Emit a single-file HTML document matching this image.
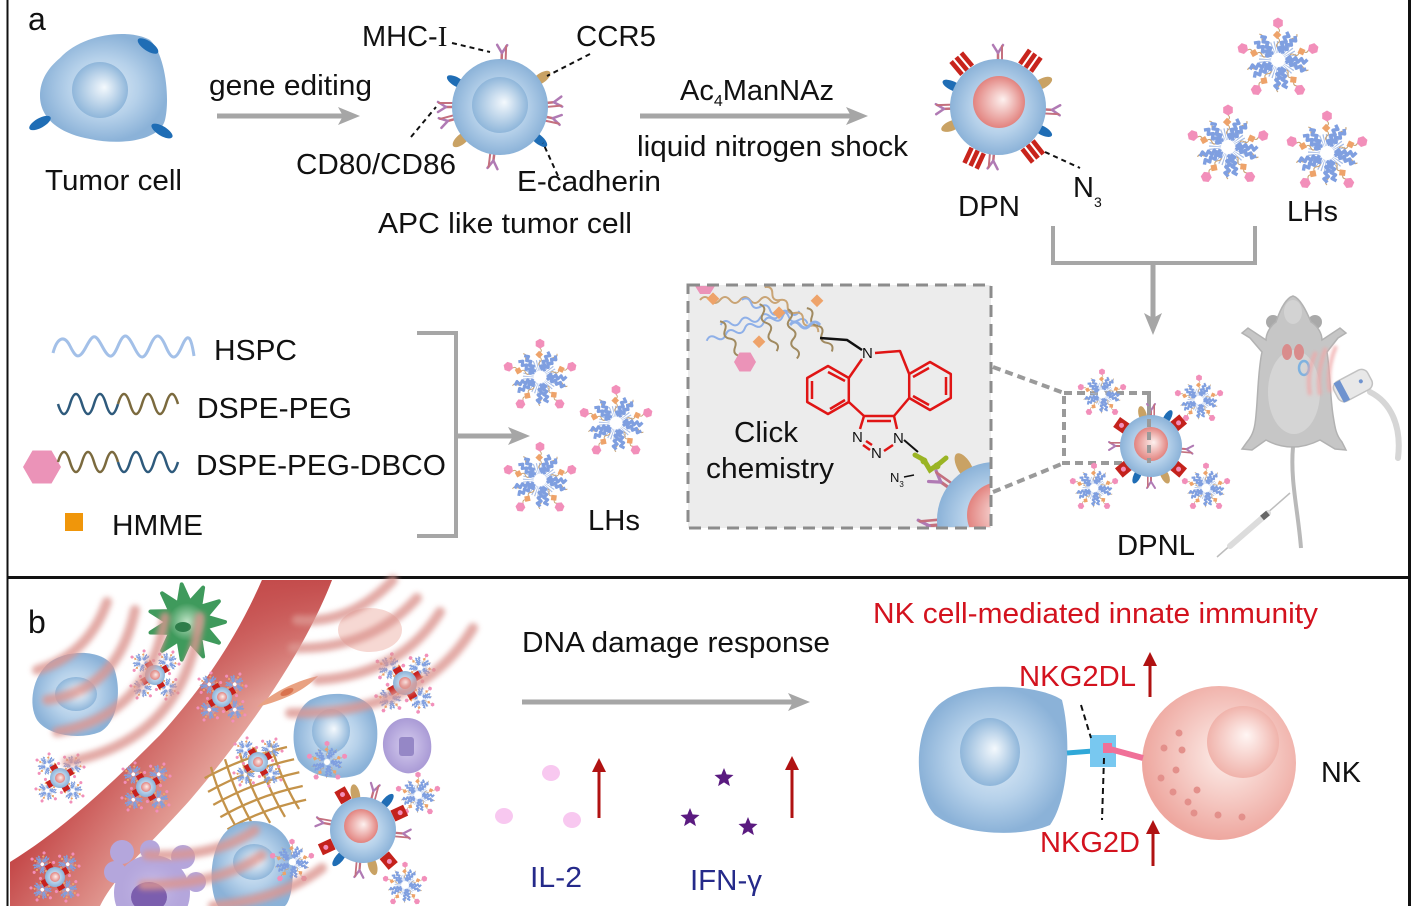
<!DOCTYPE html>
<html><head><meta charset="utf-8">
<style>
html,body{margin:0;padding:0;background:#fff;}
svg{display:block;}
text{font-family:"Liberation Sans",Arial,sans-serif;fill:#111;}
</style></head><body>
<svg width="1417" height="906" viewBox="0 0 1417 906" xmlns="http://www.w3.org/2000/svg">
<defs>
 <radialGradient id="gCell" cx="50%" cy="50%" r="50%">
  <stop offset="0" stop-color="#dfecf7"/><stop offset="0.55" stop-color="#b6d1ea"/><stop offset="1" stop-color="#8bb2d8"/>
 </radialGradient>
 <radialGradient id="gNuc" cx="50%" cy="50%" r="50%" fx="58%" fy="45%">
  <stop offset="0" stop-color="#f4f9fd"/><stop offset="1" stop-color="#8fb6da"/>
 </radialGradient>
 <radialGradient id="gNucPink" cx="50%" cy="50%" r="50%" fx="58%" fy="45%">
  <stop offset="0" stop-color="#fdf1ef"/><stop offset="1" stop-color="#e2837f"/>
 </radialGradient>
 <radialGradient id="gNK" cx="55%" cy="45%" r="55%">
  <stop offset="0" stop-color="#fdf0ec"/><stop offset="1" stop-color="#eea79f"/>
 </radialGradient>
 <radialGradient id="gNKn" cx="50%" cy="50%" r="50%" fx="55%" fy="40%">
  <stop offset="0" stop-color="#fff6f4"/><stop offset="1" stop-color="#f0b3ab"/>
 </radialGradient>
 <radialGradient id="gGreen" cx="50%" cy="50%" r="50%">
  <stop offset="0" stop-color="#bfe3c5"/><stop offset="1" stop-color="#3f9a5c"/>
 </radialGradient>
 <radialGradient id="gPurp" cx="50%" cy="50%" r="50%">
  <stop offset="0" stop-color="#d6cdef"/><stop offset="1" stop-color="#aa9bd6"/>
 </radialGradient>
 <radialGradient id="gPurp2" cx="50%" cy="50%" r="50%">
  <stop offset="0" stop-color="#d2c8ee" stop-opacity="1"/><stop offset="1" stop-color="#b4a6dc" stop-opacity="0"/>
 </radialGradient>
 <linearGradient id="gVes" gradientUnits="userSpaceOnUse" x1="140" y1="690" x2="250" y2="770">
  <stop offset="0" stop-color="#c54a4a"/><stop offset="1" stop-color="#ecb7ad"/>
 </linearGradient>
 <linearGradient id="gVesTop" gradientUnits="userSpaceOnUse" x1="0" y1="580" x2="0" y2="700">
  <stop offset="0" stop-color="#c44c4c" stop-opacity="1"/><stop offset="1" stop-color="#c44c4c" stop-opacity="0"/>
 </linearGradient>
 <filter id="blur" x="-20%" y="-20%" width="140%" height="140%"><feGaussianBlur stdDeviation="2.6"/></filter>
 <filter id="blur2" x="-20%" y="-20%" width="140%" height="140%"><feGaussianBlur stdDeviation="1.5"/></filter>
 <clipPath id="boxClip"><rect x="689" y="286" width="301" height="241"/></clipPath>

 <polygon id="hex" points="5.5,0 2.75,4.8 -2.75,4.8 -5.5,0 -2.75,-4.8 2.75,-4.8"/>
 <path id="barm" d="M8,-1 l3,-4 3,4 3,-4 3,4 3,-4 3,4 3,-4" fill="none" stroke="#7f9fe0" stroke-width="3.4" stroke-linejoin="round"/>
 <path id="tanw" d="M12,0 q2.5,-3 5,0 t5,0 t5,0 t5,0" fill="none" stroke="#c9a475" stroke-width="1.1"/>

 <g id="lh">
  <circle r="13" fill="none" stroke="#a7bde6" stroke-width="12" stroke-dasharray="0.9 1.5"/>
  <use href="#tanw" transform="rotate(18)"/><use href="#tanw" transform="rotate(54)"/>
  <use href="#tanw" transform="rotate(90)"/><use href="#tanw" transform="rotate(126)"/>
  <use href="#tanw" transform="rotate(162)"/><use href="#tanw" transform="rotate(198)"/>
  <use href="#tanw" transform="rotate(234)"/><use href="#tanw" transform="rotate(270)"/>
  <use href="#tanw" transform="rotate(306)"/><use href="#tanw" transform="rotate(342)"/>
  <use href="#barm" transform="rotate(-63)"/><use href="#barm" transform="rotate(-45)"/>
  <use href="#barm" transform="rotate(9)"/><use href="#barm" transform="rotate(27)"/>
  <use href="#barm" transform="rotate(81)"/><use href="#barm" transform="rotate(99)"/>
  <use href="#barm" transform="rotate(153)"/><use href="#barm" transform="rotate(171)"/>
  <use href="#barm" transform="rotate(225)"/><use href="#barm" transform="rotate(243)"/>
  <g fill="#eea36a">
   <rect x="-3" y="-3" width="6" height="6" transform="rotate(-20) translate(25 0) rotate(45)"/>
   <rect x="-3" y="-3" width="6" height="6" transform="rotate(52) translate(25 0) rotate(45)"/>
   <rect x="-3" y="-3" width="6" height="6" transform="rotate(124) translate(25 0) rotate(45)"/>
   <rect x="-3" y="-3" width="6" height="6" transform="rotate(196) translate(25 0) rotate(45)"/>
   <rect x="-3" y="-3" width="6" height="6" transform="rotate(268) translate(25 0) rotate(45)"/>
  </g>
  <g fill="#f28fba">
   <use href="#hex" transform="rotate(-90) translate(37 0)"/>
   <use href="#hex" transform="rotate(-18) translate(37 0)"/>
   <use href="#hex" transform="rotate(54) translate(37 0)"/>
   <use href="#hex" transform="rotate(126) translate(37 0)"/>
   <use href="#hex" transform="rotate(198) translate(37 0)"/>
  </g>
  <circle r="6" fill="#fff"/>
 </g>

 <g id="yab" fill="none" stroke-width="2.5" stroke-linecap="round">
  <path d="M0,4 V-7" stroke="#c4707e"/>
  <path d="M0,-7 L-5,-15 M0,-7 L5,-15" stroke="#b07ab4"/>
  <path d="M4,2 V-14" stroke="#c4707e" stroke-width="2"/>
 </g>
 <ellipse id="bel" cx="0" cy="-3" rx="4.5" ry="11" fill="#1f6db5"/>
 <ellipse id="tel" cx="0" cy="-3" rx="5" ry="11" fill="#c9a264"/>
 <g id="rst" fill="#c8241c">
  <rect x="-9" y="-19" width="4.6" height="17"/>
  <rect x="-2.3" y="-19" width="4.6" height="17"/>
  <rect x="4.4" y="-19" width="4.6" height="17"/>
 </g>
 <g id="rsq"><rect x="-6" y="-14" width="12" height="14" fill="#c4221c"/><circle cx="0" cy="-8" r="2.5" fill="#f28fba"/></g>

 <g id="mini">
  <use href="#lh" transform="rotate(45) translate(18 0) scale(0.31)"/>
  <use href="#lh" transform="rotate(135) translate(18 0) scale(0.31)"/>
  <use href="#lh" transform="rotate(225) translate(18 0) scale(0.31)"/>
  <use href="#lh" transform="rotate(315) translate(18 0) scale(0.31)"/>
  <g fill="#c8201c">
   <rect x="-3.5" y="-3.5" width="7" height="7" transform="rotate(60) translate(11 0)"/>
   <rect x="-3.5" y="-3.5" width="7" height="7" transform="rotate(150) translate(11 0)"/>
   <rect x="-3.5" y="-3.5" width="7" height="7" transform="rotate(240) translate(11 0)"/>
   <rect x="-3.5" y="-3.5" width="7" height="7" transform="rotate(330) translate(11 0)"/>
  </g>
  <circle r="10" fill="url(#gCell)"/><circle r="5" fill="url(#gNucPink)"/>
 </g>
</defs>

<!-- frame -->
<line x1="7.5" y1="0" x2="7.5" y2="906" stroke="#111" stroke-width="2"/>
<line x1="1409.5" y1="0" x2="1409.5" y2="906" stroke="#111" stroke-width="3"/>
<line x1="7" y1="577.5" x2="1411" y2="577.5" stroke="#111" stroke-width="3"/>

<!-- ============ PANEL A ============ -->
<text x="28" y="30" font-size="32">a</text>

<!-- tumor cell -->
<path d="M60,58 C82,34 128,28 150,40 C166,55 170,100 165,120 C160,140 122,146 90,139 C56,133 40,116 40,96 C40,80 48,68 60,58 Z" fill="url(#gCell)"/>
<circle cx="100" cy="90" r="28" fill="url(#gNuc)"/>
<ellipse cx="148" cy="46" rx="12" ry="4.8" fill="#1f6db5" transform="rotate(34 148 46)"/>
<ellipse cx="40" cy="123" rx="12" ry="4.8" fill="#1f6db5" transform="rotate(-29 40 123)"/>
<ellipse cx="162" cy="131" rx="12" ry="4.8" fill="#1f6db5" transform="rotate(31 162 131)"/>
<text x="45" y="190" font-size="29" textLength="137" lengthAdjust="spacingAndGlyphs">Tumor cell</text>

<!-- arrow gene editing -->
<text x="209" y="95" font-size="29" textLength="163" lengthAdjust="spacingAndGlyphs">gene editing</text>
<line x1="217" y1="116" x2="346" y2="116" stroke="#a6a6a6" stroke-width="5"/>
<polygon points="338,107 360,116 338,125 343,116" fill="#a6a6a6"/>

<!-- APC like tumor cell -->
<g>
 <use href="#yab" transform="translate(500 107) rotate(2) translate(0 -47)"/>
 <use href="#yab" transform="translate(500 107) rotate(85) translate(0 -47)"/>
 <use href="#yab" transform="translate(500 107) rotate(102) translate(0 -47)"/>
 <use href="#yab" transform="translate(500 107) rotate(270) translate(0 -47)"/>
 <use href="#yab" transform="translate(500 107) rotate(255) translate(0 -47)"/>
 <use href="#yab" transform="translate(500 107) rotate(187) translate(0 -47)"/>
 <use href="#bel" transform="translate(500 107) rotate(-60) translate(0 -47)"/>
 <use href="#bel" transform="translate(500 107) rotate(130) translate(0 -47)"/>
 <use href="#tel" transform="translate(500 107) rotate(55) translate(0 -47)"/>
 <use href="#tel" transform="translate(500 107) rotate(230) translate(0 -47)"/>
 <circle cx="500" cy="107" r="48" fill="url(#gCell)"/>
 <circle cx="500" cy="105" r="28" fill="url(#gNuc)"/>
</g>
<g stroke="#111" stroke-width="2" stroke-dasharray="5 4" fill="none">
 <path d="M452,43 L490,52"/>
 <path d="M590,54 L547,76"/>
 <path d="M411,137 L436,107"/>
 <path d="M558,176 L543,143"/>
</g>
<text x="362" y="46" font-size="29">MHC-<tspan font-family="Liberation Serif, serif">I</tspan></text>
<text x="576" y="46" font-size="29" textLength="80" lengthAdjust="spacingAndGlyphs">CCR5</text>
<text x="296" y="174" font-size="29" textLength="160" lengthAdjust="spacingAndGlyphs">CD80/CD86</text>
<text x="517" y="191" font-size="29" textLength="144" lengthAdjust="spacingAndGlyphs">E-cadherin</text>
<text x="378" y="233" font-size="29" textLength="254" lengthAdjust="spacingAndGlyphs">APC like tumor cell</text>

<!-- arrow Ac4ManNAz -->
<text x="680" y="100" font-size="29">Ac<tspan font-size="16" dy="6">4</tspan><tspan dy="-6">ManNAz</tspan></text>
<line x1="640" y1="116" x2="852" y2="116" stroke="#a6a6a6" stroke-width="5"/>
<polygon points="846,107 868,116 846,125 851,116" fill="#a6a6a6"/>
<text x="637" y="156" font-size="29" textLength="271" lengthAdjust="spacingAndGlyphs">liquid nitrogen shock</text>

<!-- DPN -->
<g>
 <use href="#rst" transform="translate(998 107) rotate(-40) translate(0 -46)"/>
 <use href="#rst" transform="translate(998 107) rotate(35) translate(0 -46)"/>
 <use href="#rst" transform="translate(998 107) rotate(205) translate(0 -46)"/>
 <use href="#rst" transform="translate(998 107) rotate(142) translate(0 -46)"/>
 <use href="#yab" transform="translate(998 107) rotate(0) translate(0 -47)"/>
 <use href="#yab" transform="translate(998 107) rotate(93) translate(0 -47)"/>
 <use href="#yab" transform="translate(998 107) rotate(268) translate(0 -47)"/>
 <use href="#yab" transform="translate(998 107) rotate(185) translate(0 -47)"/>
 <use href="#bel" transform="translate(998 107) rotate(-65) translate(0 -47)"/>
 <use href="#bel" transform="translate(998 107) rotate(118) translate(0 -47)"/>
 <use href="#tel" transform="translate(998 107) rotate(62) translate(0 -47)"/>
 <use href="#tel" transform="translate(998 107) rotate(248) translate(0 -47)"/>
 <circle cx="998" cy="107" r="48" fill="url(#gCell)"/>
 <circle cx="999" cy="102" r="26" fill="url(#gNucPink)"/>
</g>
<path d="M1045,152 L1080,168" stroke="#111" stroke-width="2" stroke-dasharray="5 4"/>
<text x="958" y="216" font-size="29" textLength="62" lengthAdjust="spacingAndGlyphs">DPN</text>
<text x="1073" y="197" font-size="29">N<tspan font-size="14" dy="10">3</tspan></text>

<!-- LHs top -->
<use href="#lh" transform="translate(1278 60)"/>
<use href="#lh" transform="translate(1228 147)"/>
<use href="#lh" transform="translate(1327 153)"/>
<text x="1287" y="221" font-size="29" textLength="51" lengthAdjust="spacingAndGlyphs">LHs</text>

<!-- combine bracket -->
<path d="M1053,226 V263 H1255 V226" fill="none" stroke="#a6a6a6" stroke-width="4"/>
<line x1="1153" y1="263" x2="1153" y2="322" stroke="#a6a6a6" stroke-width="5"/>
<polygon points="1144,313 1153,335 1162,313 1153,318" fill="#a6a6a6"/>

<!-- legend -->
<path d="M53,353 C57,338 64,334 70,346 S79,360 86,347 S95,333 102,346 S112,360 118,346 S127,333 134,347 S144,360 150,346 S160,333 166,347 S176,360 182,346 S191,336 194,356" fill="none" stroke="#a3c0e8" stroke-width="3"/>
<text x="214" y="360" font-size="29" textLength="83" lengthAdjust="spacingAndGlyphs">HSPC</text>
<path d="M58,404 q6,20 12,0 t12,0 t12,0 t12,0 t12,0" fill="none" stroke="#2e5a7c" stroke-width="2.5"/>
<path d="M118,404 q6,-20 12,0 t12,0 t12,0 t12,0 t12,0" fill="none" stroke="#7b6a3e" stroke-width="2.5"/>
<text x="197" y="418" font-size="29" textLength="155" lengthAdjust="spacingAndGlyphs">DSPE-PEG</text>
<polygon points="61,467 51.5,483.5 32.5,483.5 23,467 32.5,450.5 51.5,450.5" fill="#eb93b8"/>
<path d="M58,462 q6,-20 12,0 t12,0 t12,0 t12,0 t12,0" fill="none" stroke="#7b6a3e" stroke-width="2.5"/>
<path d="M118,462 q6,20 12,0 t12,0 t12,0 t12,0 t12,0" fill="none" stroke="#2e5a7c" stroke-width="2.5"/>
<text x="196" y="475" font-size="29" textLength="250" lengthAdjust="spacingAndGlyphs">DSPE-PEG-DBCO</text>
<rect x="65" y="513" width="18" height="18" fill="#f0960a"/>
<text x="112" y="535" font-size="29" textLength="91" lengthAdjust="spacingAndGlyphs">HMME</text>

<path d="M417,333 H456 V536 H417" fill="none" stroke="#a6a6a6" stroke-width="4"/>
<line x1="456" y1="436" x2="515" y2="436" stroke="#a6a6a6" stroke-width="5"/>
<polygon points="508,427 530,436 508,445 513,436" fill="#a6a6a6"/>

<use href="#lh" transform="translate(540 377) scale(0.9)"/>
<use href="#lh" transform="translate(616 423) scale(0.9)"/>
<use href="#lh" transform="translate(540 480) scale(0.9)"/>
<text x="588" y="530" font-size="29" textLength="52" lengthAdjust="spacingAndGlyphs">LHs</text>

<!-- click chemistry box -->
<rect x="688" y="285" width="303" height="243" fill="#ececec"/>
<g clip-path="url(#boxClip)">
 <g fill="none" stroke-width="2">
  <path d="M700,300 q5,-6 10,0 t10,0 t10,0 t10,0 t10,0 t10,0 t10,0 t10,0" stroke="#c9a475"/>
  <path d="M705,330 q5,-6 10,0 t10,0 t10,0 t10,0 t10,0 t10,0 t10,0 t10,0 t10,0" stroke="#8fb0e8" transform="rotate(-18 740 330)"/>
  <path d="M720,318 q5,-6 10,0 t10,0 t10,0 t10,0 t10,0 t10,0 t10,0 t10,0" stroke="#8fb0e8" transform="rotate(-10 760 318)"/>
  <path d="M740,310 q5,-6 10,0 t10,0 t10,0 t10,0 t10,0 t10,0 t10,0" stroke="#8fb0e8" transform="rotate(20 770 310)"/>
  <path d="M760,300 q5,-6 10,0 t10,0 t10,0 t10,0 t10,0 t10,0 t10,0" stroke="#c9a475" transform="rotate(40 780 300)"/>
  <path d="M745,315 q5,-6 10,0 t10,0 t10,0 t10,0 t10,0" stroke="#a08a60" transform="rotate(70 760 320)"/>
  <path d="M775,315 q5,-6 10,0 t10,0 t10,0 t10,0 t10,0" stroke="#a08a60" transform="rotate(80 785 320)"/>
  <path d="M800,310 q5,-6 10,0 t10,0 t10,0 t10,0 t10,0" stroke="#a08a60" transform="rotate(60 805 315)"/>
  <path d="M715,330 q5,-6 10,0 t10,0 t10,0 t10,0" stroke="#a08a60" transform="rotate(60 725 330)"/>
  <path d="M790,325 q5,-6 10,0 t10,0 t10,0" stroke="#8fb0e8" stroke-width="3"/>
 </g>
 <g fill="#eea36a">
  <rect x="709" y="294" width="9" height="9" transform="rotate(45 713 298)"/>
  <rect x="775" y="308" width="9" height="9" transform="rotate(45 779 312)"/>
  <rect x="813" y="296" width="9" height="9" transform="rotate(45 817 300)"/>
  <rect x="755" y="337" width="9" height="9" transform="rotate(45 759 341)"/>
 </g>
 <polygon points="756,362 750.5,371.5 739.5,371.5 734,362 739.5,352.5 750.5,352.5" fill="#eb93b8"/>
 <polygon points="715,286 710,294 700,294 695,286 700,278 710,278" fill="#eb93b8"/>
 <!-- partial cell -->
 <use href="#yab" transform="translate(995 520) rotate(-55) translate(0 -57) scale(1.3)"/>
 <use href="#yab" transform="translate(995 520) rotate(-95) translate(0 -57) scale(1.3)"/>
 <use href="#tel" transform="translate(995 520) rotate(-30) translate(0 -57) scale(1.4)"/>
 <circle cx="995" cy="520" r="58" fill="url(#gCell)"/>
 <circle cx="1000" cy="515" r="33" fill="url(#gNucPink)"/>
</g>
<rect x="688" y="285" width="303" height="243" fill="none" stroke="#8c8c8c" stroke-width="3" stroke-dasharray="12 7"/>

<!-- DBCO structure -->
<g fill="none" stroke="#e01515" stroke-width="2.5" stroke-linejoin="round">
 <polygon points="828,366 848.8,378 848.8,402 828,414 807.2,402 807.2,378"/>
 <path d="M812,381 L812,399 M828,372 L845,381 M830,409 L845,400"/>
 <polygon points="930,362 950.8,374 950.8,398 930,410 909.2,398 909.2,374"/>
 <path d="M946,377 L946,395 M913,377 L929,368 M913,396 L929,405"/>
 <path d="M862,359 L848.8,378"/>
 <path d="M875,353 L900,351 L909.2,374"/>
 <path d="M848.8,402 L864,416"/>
 <path d="M909.2,398 L894,416"/>
 <path d="M864,416 L894,416 M867,421 L891,421"/>
 <path d="M864,416 L860,429"/>
 <path d="M894,416 L897,429"/>
 <path d="M863,445 L870,450 M866,441 L872,445"/>
 <path d="M884,451 L893,445"/>
</g>
<g font-size="15" fill="#e01515">
 <text x="862" y="358" fill="#e01515">N</text>
 <text x="852" y="442" fill="#e01515">N</text>
 <text x="871" y="458" fill="#e01515">N</text>
 <text x="893" y="443" fill="#e01515">N</text>
</g>
<path d="M820,338 L847,340 L862,350" fill="none" stroke="#111" stroke-width="2.5"/>
<line x1="904" y1="440" x2="918" y2="452" stroke="#111" stroke-width="2"/>
<path d="M915,455 L924,460 L930,470 L940,463 L946,458" fill="none" stroke="#9ab424" stroke-width="5" stroke-linecap="round"/>
<circle cx="924" cy="461" r="3.5" fill="#9ab424"/><circle cx="937" cy="466" r="3.5" fill="#9ab424"/>
<text x="890" y="482" font-size="13">N<tspan font-size="8" dy="5">3</tspan></text>
<line x1="904" y1="477" x2="914" y2="475" stroke="#111" stroke-width="1.5"/>
<text x="734" y="442" font-size="29" textLength="64" lengthAdjust="spacingAndGlyphs">Click</text>
<text x="706" y="478" font-size="29" textLength="128" lengthAdjust="spacingAndGlyphs">chemistry</text>

<!-- dotted connectors -->
<g stroke="#9a9a9a" stroke-width="4" stroke-dasharray="8 5" fill="none">
 <path d="M993,367 L1064,393"/>
 <path d="M993,492 L1064,463"/>
 <rect x="1064" y="393" width="85" height="70"/>
</g>

<!-- DPNL -->
<g>
 <use href="#lh" transform="translate(1102 394) scale(0.6)"/>
 <use href="#lh" transform="translate(1199 400) scale(0.6)"/>
 <use href="#lh" transform="translate(1094 488) scale(0.6)"/>
 <use href="#lh" transform="translate(1206 488) scale(0.6)"/>
 <use href="#rsq" transform="translate(1151 446) rotate(-55) translate(0 -28)"/>
 <use href="#rsq" transform="translate(1151 446) rotate(50) translate(0 -28)"/>
 <use href="#rsq" transform="translate(1151 446) rotate(230) translate(0 -28)"/>
 <use href="#rsq" transform="translate(1151 446) rotate(130) translate(0 -28)"/>
 <use href="#yab" transform="translate(1151 446) rotate(0) translate(0 -30) scale(0.8)"/>
 <use href="#yab" transform="translate(1151 446) rotate(270) translate(0 -30) scale(0.8)"/>
 <use href="#yab" transform="translate(1151 446) rotate(180) translate(0 -30) scale(0.8)"/>
 <use href="#yab" transform="translate(1151 446) rotate(95) translate(0 -30) scale(0.8)"/>
 <use href="#bel" transform="translate(1151 446) rotate(30) translate(0 -30) scale(0.8)"/>
 <use href="#bel" transform="translate(1151 446) rotate(205) translate(0 -30) scale(0.8)"/>
 <use href="#tel" transform="translate(1151 446) rotate(-15) translate(0 -30) scale(0.8)"/>
 <use href="#tel" transform="translate(1151 446) rotate(155) translate(0 -30) scale(0.8)"/>
 <circle cx="1151" cy="446" r="31" fill="url(#gCell)"/>
 <circle cx="1151" cy="444" r="17" fill="url(#gNucPink)"/>
</g>
<path d="M1149,393 V463" stroke="#9a9a9a" stroke-width="4" stroke-dasharray="8 5"/>
<text x="1117" y="555" font-size="29" textLength="78" lengthAdjust="spacingAndGlyphs">DPNL</text>

<!-- mouse -->
<g>
 <circle cx="1273" cy="322" r="7" fill="#a9a9a9"/>
 <circle cx="1315" cy="322" r="7" fill="#a9a9a9"/>
 <path d="M1293,447 C1290,480 1298,510 1301,548" fill="none" stroke="#b9b9b9" stroke-width="4"/>
 <path d="M1293,296 C1300,298 1306,310 1311,322 C1318,326 1322,334 1322,340 L1340,328 L1346,333 L1338,338 L1327,352 C1330,370 1330,395 1333,415 C1335,428 1336,435 1342,442 L1346,450 L1335,449 L1320,440 C1310,445 1300,447 1293,447 C1285,447 1275,445 1266,440 L1252,450 L1242,449 L1247,442 C1253,435 1255,428 1256,415 C1258,395 1258,370 1262,352 L1250,338 L1242,333 L1248,328 L1266,340 C1266,334 1270,326 1276,322 C1280,310 1286,298 1293,296 Z" fill="#c6c6c6" stroke="#b2b2b2" stroke-width="1.5"/>
 <ellipse cx="1294" cy="392" rx="26" ry="42" fill="#d5d5d5"/>
 <ellipse cx="1293" cy="312" rx="9" ry="12" fill="#d3d3d3"/>
 <ellipse cx="1287" cy="352" rx="5" ry="8" fill="#d98c8c"/>
 <ellipse cx="1299" cy="352" rx="5" ry="8" fill="#d98c8c"/>
 <ellipse cx="1304" cy="368" rx="5" ry="7" fill="none" stroke="#7fb2e0" stroke-width="2.5"/>
 <g filter="url(#blur2)" fill="none" stroke="#f0a8a8" stroke-width="4" opacity="0.8">
  <path d="M1316,352 Q1306,372 1310,395"/>
  <path d="M1326,348 Q1316,372 1320,395"/>
  <path d="M1336,346 Q1326,370 1330,392"/>
 </g>
 <path d="M1370,392 C1390,402 1402,425 1398,458" fill="none" stroke="#d6d6d6" stroke-width="6" stroke-linecap="round"/>
 <g transform="rotate(-28 1352 386)">
  <rect x="1334" y="375" width="38" height="22" rx="7" fill="#e8e8e8" stroke="#c2c2c2" stroke-width="1.5"/>
  <rect x="1337" y="375" width="7" height="22" fill="#6f93cf"/>
  <circle cx="1362" cy="386" r="2" fill="#6f93cf"/>
 </g>
 <line x1="1217" y1="557" x2="1290" y2="493" stroke="#bdbdbd" stroke-width="1.5"/>
 <line x1="1230" y1="546" x2="1268" y2="513" stroke="#dcdcdc" stroke-width="6" stroke-linecap="round"/>
 <line x1="1262" y1="518" x2="1268" y2="513" stroke="#666" stroke-width="6"/>
</g>

<!-- ============ PANEL B ============ -->
<!-- vessel -->
<path d="M262,580 L332,580 C305,650 250,730 190,800 C150,845 115,875 100,906 L10,906 L10,862 C70,825 120,775 160,735 C210,680 240,630 262,580 Z" fill="url(#gVes)"/>
<path d="M262,580 L332,580 C305,650 250,730 190,800 C150,845 115,875 100,906 L10,906 L10,862 C70,825 120,775 160,735 C210,680 240,630 262,580 Z" fill="url(#gVesTop)"/>

<text x="28" y="633" font-size="32">b</text>

<!-- cells -->
<path d="M50,662 C70,648 105,650 114,668 C122,690 118,722 100,732 C80,740 48,736 37,720 C28,705 32,676 50,662 Z" fill="url(#gCell)"/>
<ellipse cx="76" cy="694" rx="21" ry="17" fill="url(#gNuc)"/>

<polygon points="225,622 206.2,627.5 218.9,642.7 200.1,637.1 203.1,656.4 189.8,641.8 181.7,659.6 178.5,640.1 162.1,650.7 170.2,632.9 150.5,632.5 167,622 150.5,611.5 170.2,611.1 162.1,593.3 178.5,603.9 181.7,584.4 189.8,602.2 203.1,587.6 200.1,606.9 218.9,601.3 206.2,616.5" fill="#3f9a5c" stroke="#3f9a5c" stroke-width="4" stroke-linejoin="round"/>
<circle cx="187" cy="622" r="19" fill="url(#gGreen)"/>
<ellipse cx="183" cy="627" rx="8" ry="5" fill="#2e7d4a"/>

<ellipse cx="370" cy="630" rx="32" ry="22" fill="#f2c8c0" opacity="0.7"/>
<path d="M257,707 C275,690 300,680 318,676 C305,690 285,700 257,707 Z" fill="#e9a282"/>
<ellipse cx="287" cy="692" rx="7" ry="3" fill="#d9734f" transform="rotate(-25 287 692)"/>

<path d="M310,700 C330,690 360,692 372,708 C382,730 378,762 360,774 C340,782 310,778 298,760 C290,742 292,712 310,700 Z" fill="url(#gCell)"/>
<ellipse cx="331" cy="731" rx="19" ry="22" fill="url(#gNuc)"/>

<path d="M407,718 C425,718 433,735 431,752 C428,768 415,775 405,773 C392,770 382,758 383,742 C384,728 394,718 407,718 Z" fill="url(#gPurp)"/>
<rect x="399" y="737" width="15" height="19" rx="3" fill="#9587c6"/>

<g fill="none" stroke="#c4934a" stroke-width="2.3" transform="rotate(-22 255 788)">
 <path d="M212,760 Q255,755 300,762"/><path d="M210,774 Q255,768 302,776"/>
 <path d="M210,788 Q255,782 302,790"/><path d="M212,802 Q255,796 300,804"/>
 <path d="M214,816 Q255,810 298,818"/>
 <path d="M222,752 Q218,790 224,824"/><path d="M238,750 Q234,790 240,826"/>
 <path d="M254,750 Q250,790 256,826"/><path d="M270,750 Q266,790 272,826"/>
 <path d="M286,752 Q282,790 288,824"/>
</g>

<path d="M230,828 C250,815 280,820 290,845 C296,870 292,900 285,906 L218,906 C208,890 208,845 230,828 Z" fill="url(#gCell)"/>
<ellipse cx="254" cy="862" rx="21" ry="18" fill="url(#gNuc)"/>

<g fill="#b4a6dc">
 <circle cx="152" cy="893" r="38"/>
 <circle cx="115" cy="872" r="11"/><circle cx="122" cy="852" r="12"/>
 <circle cx="150" cy="850" r="10"/><circle cx="183" cy="857" r="12"/><circle cx="196" cy="882" r="10"/>
</g>
<circle cx="152" cy="890" r="34" fill="url(#gPurp2)"/>
<ellipse cx="149" cy="897" rx="18" ry="15" fill="#7b5eae"/>

<!-- big DPNL b -->
<use href="#lh" transform="translate(418 795) scale(0.55)"/>
<use href="#lh" transform="translate(405 885) scale(0.55)"/>
<use href="#lh" transform="translate(292 862) scale(0.55)"/>
<use href="#lh" transform="translate(327 762) scale(0.5)"/>
<g>
 <use href="#rsq" transform="translate(363 830) rotate(-30) translate(0 -33)"/>
 <use href="#rsq" transform="translate(363 830) rotate(65) translate(0 -33)"/>
 <use href="#rsq" transform="translate(363 830) rotate(245) translate(0 -33)"/>
 <use href="#rsq" transform="translate(363 830) rotate(140) translate(0 -33)"/>
 <use href="#yab" transform="translate(363 830) rotate(15) translate(0 -34) scale(0.9)"/>
 <use href="#yab" transform="translate(363 830) rotate(280) translate(0 -34) scale(0.9)"/>
 <use href="#yab" transform="translate(363 830) rotate(95) translate(0 -34) scale(0.9)"/>
 <use href="#yab" transform="translate(363 830) rotate(185) translate(0 -34) scale(0.9)"/>
 <use href="#bel" transform="translate(363 830) rotate(40) translate(0 -34) scale(0.9)"/>
 <use href="#bel" transform="translate(363 830) rotate(220) translate(0 -34) scale(0.9)"/>
 <use href="#tel" transform="translate(363 830) rotate(-12) translate(0 -34) scale(0.9)"/>
 <use href="#tel" transform="translate(363 830) rotate(165) translate(0 -34) scale(0.9)"/>
 <circle cx="363" cy="830" r="33" fill="url(#gCell)"/>
 <circle cx="361" cy="826" r="17" fill="url(#gNucPink)"/>
</g>

<use href="#mini" transform="translate(155 675)"/>
<use href="#mini" transform="translate(222 697)"/>
<use href="#mini" transform="translate(60 778)"/>
<use href="#mini" transform="translate(146 787)"/>
<use href="#mini" transform="translate(55 877)"/>
<use href="#mini" transform="translate(258 762)"/>
<use href="#mini" transform="translate(405 683) scale(1.2)"/>

<!-- blurred waves -->
<g filter="url(#blur)" fill="none" stroke="#dc9590" stroke-width="10" stroke-linecap="round" opacity="0.8">
 <path d="M37,670 Q88,655 107,602"/>
 <path d="M47,700 Q118,690 135,610"/>
 <path d="M57,732 Q150,715 165,617"/>
 <path d="M67,762 Q185,740 200,617"/>
 <path d="M297,620 Q350,625 393,580"/>
 <path d="M293,648 Q370,650 417,598"/>
 <path d="M317,680 Q400,675 440,612"/>
 <path d="M290,713 Q420,715 473,628"/>
 <path d="M147,855 Q215,858 255,830"/>
 <path d="M143,885 Q220,885 262,855"/>
 <path d="M213,906 Q280,900 322,868"/>
</g>

<!-- middle b -->
<text x="522" y="652" font-size="29" textLength="308" lengthAdjust="spacingAndGlyphs">DNA damage response</text>
<line x1="522" y1="702" x2="795" y2="702" stroke="#a6a6a6" stroke-width="5"/>
<polygon points="788,693 810,702 788,711 793,702" fill="#a6a6a6"/>

<g fill="#f8c8f0">
 <ellipse cx="551" cy="773" rx="9" ry="8"/>
 <ellipse cx="504" cy="816" rx="9" ry="8"/>
 <ellipse cx="572" cy="820" rx="9" ry="8"/>
</g>
<g fill="#5a1a80">
 <polygon points="724,768 726.6,774.4 733.5,775 728.2,779.4 729.9,786.1 724,782.4 718.1,786.1 719.8,779.4 714.5,775 721.4,774.4"/>
 <polygon points="690,808 692.6,814.4 699.5,815 694.2,819.4 695.9,826.1 690,822.4 684.1,826.1 685.8,819.4 680.5,815 687.4,814.4"/>
 <polygon points="748,817 750.6,823.4 757.5,824 752.2,828.4 753.9,835.1 748,831.4 742.1,835.1 743.8,828.4 738.5,824 745.4,823.4"/>
</g>
<g stroke="#b01212" stroke-width="3" fill="#b01212">
 <line x1="599" y1="818" x2="599" y2="768"/>
 <line x1="792" y1="818" x2="792" y2="766"/>
 <line x1="1150" y1="697" x2="1150" y2="662"/>
 <line x1="1153" y1="866" x2="1153" y2="830"/>
</g>
<g fill="#b01212">
 <polygon points="592,772 599,758 606,772"/>
 <polygon points="785,770 792,756 799,770"/>
 <polygon points="1143,666 1150,652 1157,666"/>
 <polygon points="1146,834 1153,820 1160,834"/>
</g>
<text x="530" y="887" font-size="29" fill="#252a8a" style="fill:#252a8a" textLength="52" lengthAdjust="spacingAndGlyphs">IL-2</text>
<text x="690" y="890" font-size="29" fill="#252a8a" style="fill:#252a8a" textLength="72" lengthAdjust="spacingAndGlyphs">IFN-γ</text>

<!-- right b -->
<text x="873" y="623" font-size="29" style="fill:#d3121e" textLength="445" lengthAdjust="spacingAndGlyphs">NK cell-mediated innate immunity</text>
<path d="M945,700 C975,680 1040,685 1062,700 C1072,740 1068,800 1050,825 C1020,838 960,835 935,815 C912,790 912,720 945,700 Z" fill="url(#gCell)"/>
<ellipse cx="990" cy="752" rx="30" ry="34" fill="url(#gNuc)"/>
<circle cx="1219" cy="763" r="77" fill="url(#gNK)"/>
<circle cx="1243" cy="742" r="36" fill="url(#gNKn)"/>
<g fill="#e3908b">
 <circle cx="1179" cy="733" r="3.5"/><circle cx="1182" cy="750" r="3.5"/><circle cx="1164" cy="748" r="3.5"/>
 <circle cx="1176" cy="770" r="3.5"/><circle cx="1161" cy="778" r="3.5"/><circle cx="1197" cy="790" r="3.5"/>
 <circle cx="1173" cy="792" r="3.5"/><circle cx="1188" cy="802" r="3.5"/><circle cx="1194" cy="813" r="3.5"/>
 <circle cx="1218" cy="815" r="3.5"/><circle cx="1242" cy="817" r="3.5"/>
</g>
<line x1="1067" y1="753" x2="1093" y2="751" stroke="#30a8d8" stroke-width="5"/>
<rect x="1090" y="735" width="26" height="32" fill="#78c8f0"/>
<path d="M1106,748 L1143,758" stroke="#f07098" stroke-width="6"/>
<rect x="1103" y="743" width="9" height="10" fill="#f07098"/>
<g stroke="#111" stroke-width="2" stroke-dasharray="6 4">
 <line x1="1081" y1="705" x2="1091" y2="738"/>
 <line x1="1104" y1="758" x2="1102" y2="820"/>
</g>
<text x="1019" y="686" font-size="29" style="fill:#d3121e" textLength="117" lengthAdjust="spacingAndGlyphs">NKG2DL</text>
<text x="1040" y="852" font-size="29" style="fill:#d3121e" textLength="100" lengthAdjust="spacingAndGlyphs">NKG2D</text>
<text x="1321" y="782" font-size="29" textLength="40" lengthAdjust="spacingAndGlyphs">NK</text>
</svg>
</body></html>
